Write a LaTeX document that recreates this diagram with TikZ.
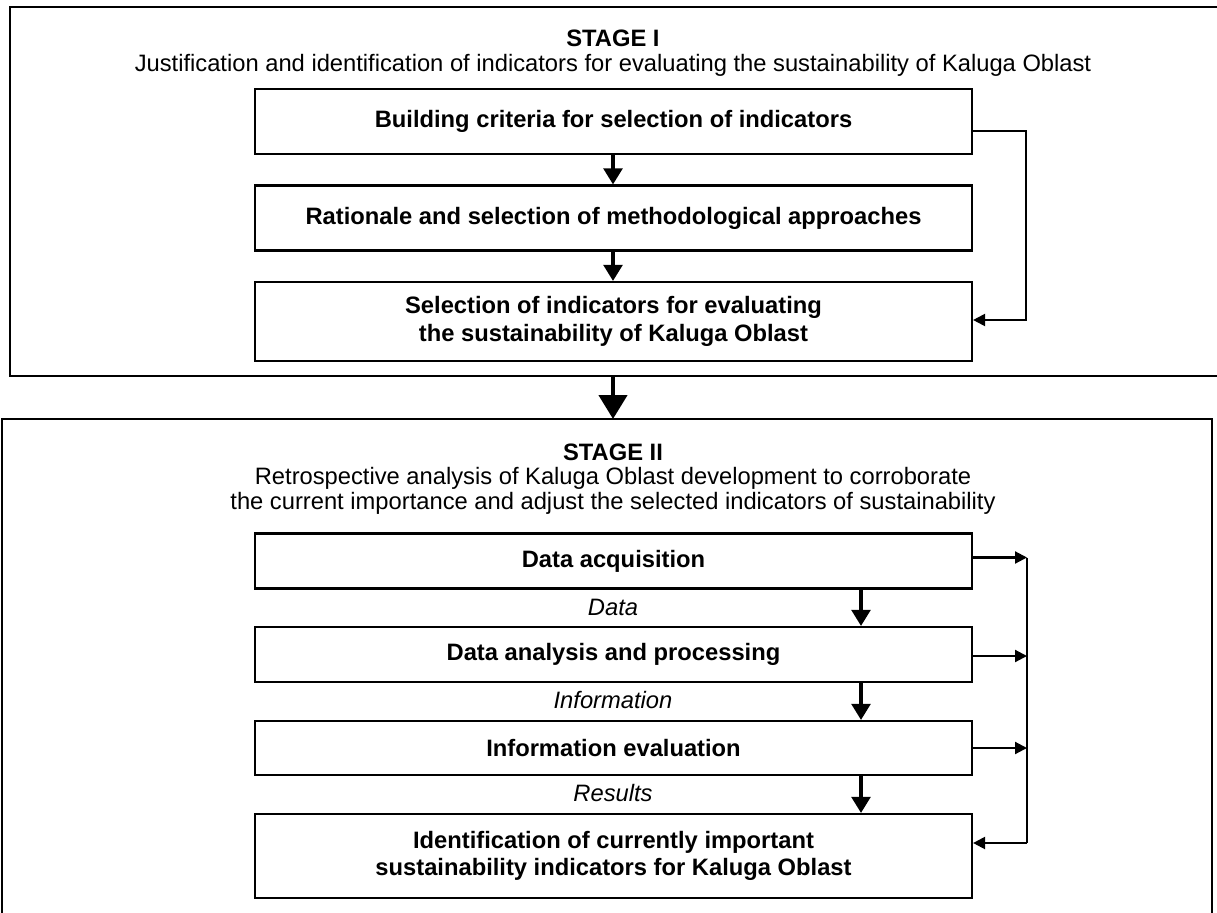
\documentclass[tikz,border=0pt]{standalone}
\usepackage{fontspec}
\setmainfont{Liberation Sans}
\usetikzlibrary{arrows.meta,calc}
\begin{document}
\begin{tikzpicture}[x=0.75pt,y=-0.75pt,
  line width=1.6pt,
  box/.style={draw,line width=1.6pt,minimum width={717*0.75pt},align=center,inner sep=0pt,font=\fontsize{17.8pt}{20.5pt}\selectfont\bfseries},
  frame/.style={draw,line width=1.8pt},
  ttl/.style={align=center,inner sep=0pt,font=\fontsize{17.8pt}{18.4pt}\selectfont},
  lbl/.style={inner sep=0pt,font=\fontsize{17.8pt}{18pt}\selectfont\itshape},
  arr/.style={-{Triangle[width=14pt,length=12pt]},line width=2.5pt},
  sarr/.style={-{Triangle[width=9pt,length=9pt]},line width=1.6pt},
  bigarr/.style={-{Triangle[width=21pt,length=18pt]},line width=3.4pt}]
\useasboundingbox (0,0) rectangle (1217,913);
\begin{scope}
\clip (0,0) rectangle (1217,913);
% frames
\draw[frame] (10,7) rectangle (1240,376);
\draw[frame] (2,419) rectangle (1212,940);
\end{scope}
\coordinate (top1) at (613,7);
\coordinate (bot1) at (613,376);
\coordinate (top2) at (613,419);
% stage I
\node[ttl] (s1) at (613,53) {\textbf{STAGE I}\\Justification and identification of indicators for evaluating the sustainability of Kaluga Oblast};
\node[box,minimum height={65*0.75pt}] (b1) at (613.5,121.5) {Building criteria for selection of indicators};
\node[box,minimum height={65*0.75pt}] (b2) at (613.5,218) {Rationale and selection of methodological approaches};
\node[box,minimum height={79*0.75pt}] (b3) at (613.5,321.5) {Selection of indicators for evaluating\\the sustainability of Kaluga Oblast};
\draw[arr] (b1.south -| top1) -- (b2.north -| top1);
\draw[arr] (b2.south -| top1) -- (b3.north -| top1);
\coordinate (fb) at (1026,131);
\draw[sarr] (fb -| b1.east) -- (fb) |- ($(b3.east)+(0,-1.5)$);
% big arrow
\draw[bigarr] (bot1) -- (top2);
% stage II
\node[ttl] (s2) at (613,479) {\textbf{STAGE II}\\Retrospective analysis of Kaluga Oblast development to corroborate\\the current importance and adjust the selected indicators of sustainability};
\node[box,minimum height={55*0.75pt}] (c1) at (613.5,561) {Data acquisition};
\node[box,minimum height={55*0.75pt}] (c2) at (613.5,654.5) {Data analysis and processing};
\node[box,minimum height={54*0.75pt}] (c3) at (613.5,748) {Information evaluation};
\node[box,minimum height={84*0.75pt}] (c4) at (613.5,856) {Identification of currently important\\sustainability indicators for Kaluga Oblast};
\coordinate (ax) at (861,0);
\draw[arr] (c1.south -| ax) -- (c2.north -| ax);
\draw[arr] (c2.south -| ax) -- (c3.north -| ax);
\draw[arr] (c3.south -| ax) -- (c4.north -| ax);
\node[lbl] (l1) at (613,607) {Data};
\node[lbl] (l2) at (613,700) {Information};
\node[lbl] (l3) at (613,793) {Results};
\coordinate (bus) at (1027,0);
\coordinate (in4) at (972,843);
\draw[sarr] ($(c1.east)+(0,-3.5)$) -- ($(c1.east -| bus)+(0,-3.5)$);
\draw[sarr] ($(c2.east)+(0,1.5)$) -- ($(c2.east -| bus)+(0,1.5)$);
\draw[sarr] (c3.east) -- (c3.east -| bus);
\draw ($(c1.east -| bus)+(0,-3.5)$) |- (in4 -| bus);
\draw[sarr] (in4 -| bus) -- (in4 -| c4.east);
\end{tikzpicture}
\end{document}
